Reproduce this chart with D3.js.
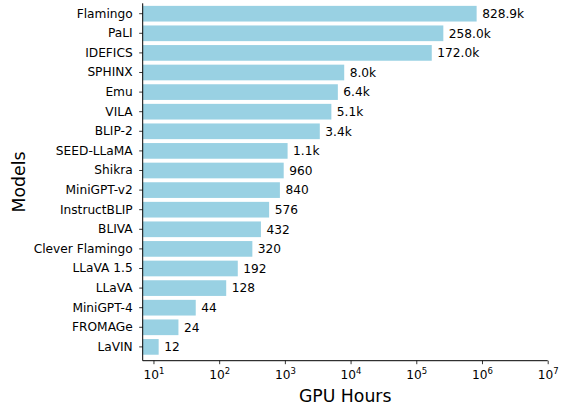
<!DOCTYPE html>
<html>
<head>
<meta charset="utf-8">
<script src="https://cdn.jsdelivr.net/npm/d3@7"></script>
<style>
  body { margin: 0; background: #fff; }
  text { font-family: "DejaVu Sans", sans-serif; fill: #000; }
</style>
</head>
<body>
<div class="chart"></div>
<script>
const models = ['Flamingo', 'PaLI', 'IDEFICS', 'SPHINX', 'Emu', 'VILA', 'BLIP-2', 'SEED-LLaMA',
                'Shikra', 'MiniGPT-v2', 'InstructBLIP', 'BLIVA', 'Clever Flamingo', 'LLaVA 1.5',
                'LLaVA', 'MiniGPT-4', 'FROMAGe', 'LaVIN'];
const gpuHours = [828900, 258000, 172000, 8000, 6400, 5100, 3400, 1100,
                  960, 840, 576, 432, 320, 192, 128, 44, 24, 12];
const xTicks = [1, 2, 3, 4, 5, 6, 7]; // exponents of 10

const width = 565, height = 407;
const margin = {top: 3.3, right: 17.3, bottom: 46.3, left: 142.7};

const svg = d3.select('.chart')
    .append('svg')
    .attr('width', width)
    .attr('height', height);

const xScale = d3.scaleLog()
    .domain([6.86, 1e7])
    .range([margin.left, width - margin.right]);

const yScale = d3.scaleBand()
    .domain(models)
    .range([margin.top, height - margin.bottom])
    .paddingInner(0.2)
    .paddingOuter(0.2175)
    .align(0.3);

const fmt = v => v >= 1000 ? (v / 1000).toFixed(1) + 'k' : String(v);

// bars
svg.append('g')
    .selectAll('rect')
    .data(models)
    .enter()
    .append('rect')
    .attr('x', xScale.range()[0])
    .attr('y', d => yScale(d))
    .attr('width', (d, i) => xScale(gpuHours[i]) - xScale.range()[0])
    .attr('height', yScale.bandwidth())
    .attr('fill', '#99d1e3');

// value labels
svg.append('g')
    .selectAll('text')
    .data(models)
    .enter()
    .append('text')
    .attr('x', (d, i) => xScale(gpuHours[i]) + 5.5)
    .attr('y', d => yScale(d) + yScale.bandwidth() / 2)
    .attr('dy', '0.36em')
    .attr('font-size', 12.2)
    .text((d, i) => fmt(gpuHours[i]));

// x axis
const xAxis = d3.axisBottom(xScale)
    .tickValues(xTicks.map(e => Math.pow(10, e)))
    .tickSize(3.5)
    .tickFormat('');

const gx = svg.append('g')
    .attr('class', 'axis x-axis')
    .attr('transform', 'translate(0,' + (height - margin.bottom) + ')')
    .call(xAxis);
gx.select('.domain').attr('stroke', '#000').attr('stroke-width', 1).attr('d',
    'M' + xScale.range()[0] + ',0H' + xScale.range()[1]);
gx.selectAll('.tick line').attr('stroke', '#000').attr('stroke-width', 0.8);

gx.selectAll('.tick')
    .append('text')
    .attr('y', 18.6)
    .attr('text-anchor', 'middle')
    .attr('font-size', 12.2)
    .each(function(d) {
        const t = d3.select(this);
        t.append('tspan').text('10');
        t.append('tspan').attr('dy', -5).attr('font-size', 8.5).text(Math.round(Math.log10(d)));
    });

// y axis
const yAxis = d3.axisLeft(yScale)
    .tickSize(3.5)
    .tickPadding(6.5);

const gy = svg.append('g')
    .attr('class', 'axis y-axis')
    .attr('transform', 'translate(' + margin.left + ',0)')
    .call(yAxis);
gy.select('.domain').attr('stroke', '#000').attr('stroke-width', 1).attr('d',
    'M0,' + margin.top + 'V' + (height - margin.bottom));
gy.selectAll('.tick line').attr('stroke', '#000').attr('stroke-width', 0.8);
gy.selectAll('.tick text')
    .attr('font-size', 12.2)
    .attr('font-family', '"DejaVu Sans", sans-serif')
    .attr('fill', '#000');

// axis titles
svg.append('text')
    .attr('x', (xScale.range()[0] + xScale.range()[1]) / 2)
    .attr('y', 401.5)
    .attr('text-anchor', 'middle')
    .attr('font-size', 17.3)
    .text('GPU Hours');

svg.append('text')
    .attr('transform', 'translate(25,' + ((margin.top + height - margin.bottom) / 2) + ') rotate(-90)')
    .attr('text-anchor', 'middle')
    .attr('font-size', 17.3)
    .text('Models');
</script>
</body>
</html>
